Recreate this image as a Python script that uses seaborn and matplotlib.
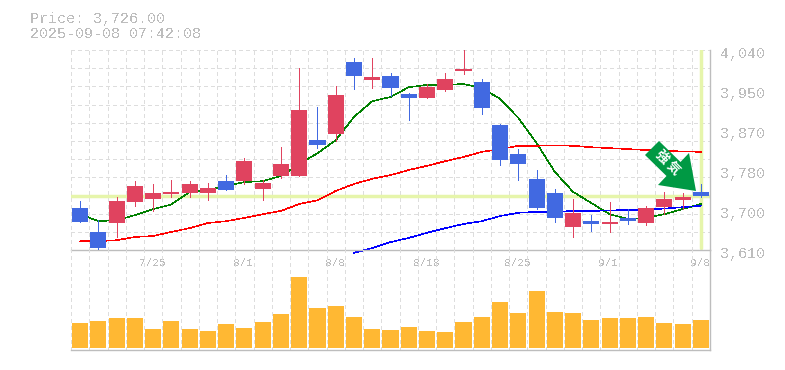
import numpy as np
import pandas as pd
import matplotlib
matplotlib.use("Agg")
import matplotlib.pyplot as plt
from matplotlib.patches import Polygon
import seaborn as sns

# price data, one entry per trading day
opens = [3700, 3649, 3668, 3713, 3720, 3730, 3733, 3733, 3758, 3758, 3741, 3769, 3769, 3846, 3859, 4014, 3975, 3984,
         3945, 3937, 3954, 3995, 3971, 3879, 3816, 3763, 3733, 3659, 3672, 3666, 3679, 3668, 3702, 3717, 3735]
highs = [3715, 3674, 3724, 3758, 3752, 3760, 3758, 3754, 3771, 3808, 3760, 3831, 4001, 3917, 3963, 4023, 4023, 3991,
         3948, 3967, 3991, 4045, 3978, 3881, 3827, 3782, 3741, 3720, 3685, 3713, 3698, 3705, 3735, 3733, 3752]
lows = [3670, 3608, 3638, 3705, 3694, 3724, 3724, 3717, 3739, 3752, 3717, 3765, 3769, 3829, 3844, 3956, 3958, 3941,
        3889, 3937, 3952, 3988, 3902, 3793, 3760, 3698, 3670, 3638, 3651, 3649, 3666, 3664, 3687, 3698, 3724]
closes = [3670, 3614, 3715, 3748, 3733, 3735, 3752, 3743, 3739, 3801, 3754, 3795, 3911, 3836, 3943, 3984, 3982, 3958,
          3937, 3960, 3978, 3999, 3915, 3804, 3795, 3700, 3679, 3690, 3666, 3670, 3672, 3700, 3720, 3724, 3726]
volumes = [25000, 27000, 30000, 30000, 19000, 27000, 19000, 17000, 24000, 20000, 26000, 34000, 71000, 40000, 42000,
           31000, 19000, 18000, 21000, 17000, 16000, 26000, 31000, 46000, 35000, 57000, 36000, 35000, 28000, 30000,
           30000, 31000, 25000, 24000, 28000]

# moving averages
ma_short = [3687, 3672, 3674, 3685, 3698, 3708, 3735, 3739, 3748, 3756, 3758, 3769, 3795, 3818, 3846, 3896, 3930, 3939,
            3960, 3965, 3965, 3967, 3958, 3935, 3894, 3840, 3778, 3735, 3711, 3687, 3677, 3679, 3687, 3698, 3709]
ma_mid = [3629, 3629, 3631, 3638, 3640, 3649, 3657, 3668, 3672, 3679, 3687, 3694, 3709, 3717, 3737, 3752, 3763, 3771,
          3782, 3791, 3801, 3810, 3821, 3827, 3834, 3834, 3835, 3834, 3831, 3829, 3827, 3825, 3823, 3822, 3821]
ma_long = [np.nan] * 15 + [3604, 3614, 3627, 3636, 3647, 3657, 3666, 3672, 3683, 3690, 3692, 3692, 3694, 3694, 3695,
                           3696, 3697, 3699, 3702, 3705]

tick_values = [3610, 3696, 3782, 3868, 3954, 4040]
tick_labels = ["3,610", "3,700", "3,780", "3,870", "3,950", "4,040"]
date_positions = [4, 9, 14, 19, 24, 29, 34]
date_labels = ["7/25", "8/1", "8/8", "8/18", "8/25", "9/1", "9/8"]
last_price = 3726

GRAY = "#bdbdbd"
GRID = "#dddddd"
PALE = "#e6f5ab"
UP = "#e0435f"
DOWN = "#4169e1"
MONO = "Liberation Mono"

W, H = 785, 370
sns.set_theme(style="white")
plt.rcParams["font.family"] = [MONO, "Noto Sans CJK JP", "DejaVu Sans"]
plt.rcParams["text.antialiased"] = False

fig = plt.figure(figsize=(W / 100, H / 100), dpi=100)
ax = fig.add_axes([71 / W, 1 - 250 / H, 639 / W, 200 / H])
ax2 = fig.add_axes([71 / W, 1 - 350 / H, 639 / W, 100 / H])

df = pd.DataFrame({"i": range(35), "open": opens, "high": highs, "low": lows, "close": closes, "volume": volumes,
                   "short": ma_short, "mid": ma_mid, "long": ma_long})

# volume pane
sns.barplot(data=df, x="i", y="volume", color="#ffb833", saturation=1, width=0.88, ax=ax2, zorder=3,
            linewidth=0, antialiased=False)
ax2.set_xlim(-0.5, 34.5)
ax2.set_ylim(-2000, 98000)
ax2.set_xlabel("")
ax2.set_ylabel("")
ax2.set_yticks([])
ax2.set_xticks(np.arange(-0.5, 35))
ax2.set_xticklabels([])
ax2.tick_params(length=0)
ax2.grid(axis="x", color=GRID, linestyle=(0, (3, 3)), linewidth=0.72, antialiased=False)
ax2.set_axisbelow(True)
ax2.patch.set_alpha(0)
for s in ["top", "left"]:
    ax2.spines[s].set_visible(False)
for s in ["bottom", "right"]:
    ax2.spines[s].set_color(GRAY)
    ax2.spines[s].set_linewidth(1)

# price pane
ax.set_xlim(-0.5, 34.5)
ax.set_ylim(3610, 4040)
ax.set_xticks(np.arange(-0.5, 35))
ax.set_yticks(np.linspace(3610, 4040, 12))
ax.set_xticklabels([])
ax.set_yticklabels([])
ax.tick_params(length=0)
ax.grid(True, color=GRID, linestyle=(0, (3, 3)), linewidth=0.72, antialiased=False)
ax.set_axisbelow(True)
for s in ["top", "left"]:
    ax.spines[s].set_visible(False)
for s in ["bottom", "right"]:
    ax.spines[s].set_color(GRAY)
    ax.spines[s].set_linewidth(1)

ax.axhline(last_price, color=PALE, linewidth=2.5, zorder=1)
ax.axvline(34, ymin=0.01, color=PALE, linewidth=2.5, zorder=1)

sns.lineplot(data=df, x="i", y="short", color="#008000", linewidth=0.4, ax=ax, zorder=2, antialiased=False)
sns.lineplot(data=df, x="i", y="mid", color="#ff0000", linewidth=0.4, ax=ax, zorder=2, antialiased=False)
sns.lineplot(data=df, x="i", y="long", color="#0000ff", linewidth=0.4, ax=ax, zorder=2, clip_on=False, antialiased=False)
ax.set_xlabel("")
ax.set_ylabel("")

# candles go over the averages
for row in df.itertuples():
    col = UP if row.close >= row.open else DOWN
    ax.vlines(row.i, row.low, row.high, color=col, linewidth=0.72, zorder=3, antialiased=False)
    ax.bar(row.i, abs(row.close - row.open), bottom=min(row.open, row.close), width=0.88, color=col, zorder=3,
           linewidth=0, antialiased=False)

for v, lab in zip(tick_values, tick_labels):
    ax.annotate(lab, xy=(1, v), xycoords=("axes fraction", "data"), xytext=(10, -4), textcoords="offset pixels",
                ha="left", va="center", color=GRAY, fontsize=10.8, annotation_clip=False)
for p, lab in zip(date_positions, date_labels):
    ax.annotate(lab, xy=(p, 0), xycoords=("data", "axes fraction"), xytext=(-1, -13), textcoords="offset pixels",
                ha="center", va="center", color=GRAY, fontsize=8, annotation_clip=False, zorder=5)

fig.text(30 / W, 1 - 19 / H, "Price: 3,726.00", color=GRAY, fontsize=10.8, va="center")
fig.text(30 / W, 1 - 34 / H, "2025-09-08 07:42:08", color=GRAY, fontsize=10.8, va="center")

# signal arrow
arrow_px = np.array([(659, 141), (680.5, 162), (689, 153), (696, 191), (658, 185), (666.5, 176), (645, 155)], dtype=float)
arrow_px[:, 1] = H - arrow_px[:, 1]
fig.add_artist(Polygon(arrow_px / [W, H], closed=True, transform=fig.transFigure, facecolor="#009944",
                       edgecolor="none", zorder=6))
fig.text(661.5 / W, 1 - 157.5 / H, "強", color="white", fontsize=9.5, fontweight="bold", rotation=-45,
         ha="center", va="center", rotation_mode="anchor", zorder=7, antialiased=True)
fig.text(672.5 / W, 1 - 168.5 / H, "気", color="white", fontsize=9.5, fontweight="bold", rotation=-45,
         ha="center", va="center", rotation_mode="anchor", zorder=7, antialiased=True)

fig.savefig("out.png", dpi=100)
